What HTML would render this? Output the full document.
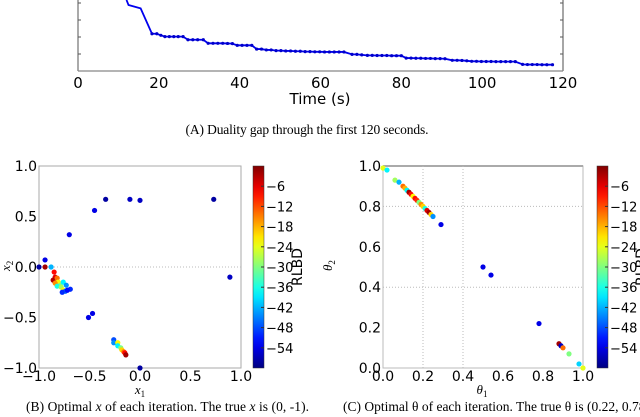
<!DOCTYPE html>
<html><head><meta charset="utf-8">
<style>
html,body{margin:0;padding:0;background:#fff;}
svg{display:block;}
.t{font-family:"DejaVu Sans","Liberation Sans",sans-serif;fill:#000;}
.c{font-family:"Liberation Serif",serif;fill:#000;}
</style></head>
<body>
<svg id="fig" width="640" height="417" viewBox="0 0 640 417" xmlns="http://www.w3.org/2000/svg">
<g id="top"></g>
<g id="left"></g>
<g id="right"></g>
<text class="c" x="307" y="134" font-size="13.5" text-anchor="middle" textLength="243">(A) Duality gap through the first 120 seconds.</text>
<text class="c" x="26" y="411" font-size="13.5" textLength="283">(B) Optimal <tspan font-style="italic">x</tspan> of each iteration. The true <tspan font-style="italic">x</tspan> is (0, -1).</text>
<text class="c" x="343" y="411" font-size="13.5">(C) Optimal θ of each iteration. The true θ is (0.22, 0.78).</text>
</svg>
<script>
// ---- Top chart data ----
const gapTimes = [12,12.5,15.5,18.3,19.5,20.5,21.5,22.6,23.7,24.8,26,27.2,28.4,29.6,31,32.2,33.4,34.6,35.8,37,38.2,39.4,40.6,41.8,43,44.2,45.4,46.6,47.8,49,50.2,51.4,52.6,53.8,55,56.2,57.4,58.6,59.8,61,62.2,63.4,64.6,65.8,67.8,69,70.2,71.6,72.8,74,75.2,76.4,77.6,78.8,80,81.2,82.4,83.6,84.8,86,87.2,88.4,89.6,90.8,92.6,93.8,95,96.2,97.4,98.6,99.8,101,102.2,103.4,104.6,105.8,107,108.2,110,111.2,112.4,113.6,114.8,116,117.4];
const gapValues = [4.18,3.88,3.68,2.19,2.19,2.1,2.02,2.02,2.02,2.02,2.02,1.84,1.84,1.84,1.84,1.63,1.63,1.63,1.63,1.62,1.61,1.51,1.51,1.51,1.51,1.29,1.29,1.24,1.24,1.2,1.2,1.18,1.18,1.16,1.16,1.14,1.14,1.13,1.13,1.12,1.12,1.12,1.12,1.12,0.98,0.98,0.95,0.92,0.92,0.91,0.91,0.91,0.9,0.9,0.9,0.76,0.76,0.75,0.75,0.74,0.74,0.73,0.73,0.72,0.63,0.63,0.62,0.6,0.57,0.57,0.56,0.56,0.56,0.55,0.55,0.55,0.55,0.55,0.39,0.38,0.38,0.38,0.37,0.37,0.37];
const timeTicks = [0,20,40,60,80,100,120];

// ---- Scatter B data ----
const xPts1 = [-1.0,-0.94,-0.94,-0.88,-0.70,-0.45,-0.34,-0.10,0.0,0.73,0.89,-0.51,-0.47,0.0,-0.85,-0.84,-0.86,-0.82,-0.81,-0.84,-0.79,-0.82,-0.76,-0.78,-0.73,-0.76,-0.74,-0.77,-0.69,-0.72,-0.26,-0.26,-0.22,-0.22,-0.19,-0.18,-0.16,-0.15,-0.14];
const xPts2 = [0.0,0.07,0.0,0.0,0.32,0.56,0.67,0.67,0.66,0.67,-0.10,-0.50,-0.46,-1.0,-0.05,-0.10,-0.13,-0.11,-0.15,-0.16,-0.18,-0.19,-0.15,-0.20,-0.18,-0.23,-0.24,-0.25,-0.22,-0.23,-0.72,-0.75,-0.75,-0.78,-0.80,-0.82,-0.84,-0.85,-0.87];
const xRLBD = [-58,-54,-2,-42,-54,-54,-58,-56,-56,-58,-56,-54,-54,-58,-8,-6,-3,-14,-22,-16,-30,-36,-38,-28,-44,-22,-46,-50,-50,-52,-48,-44,-22,-38,-30,-20,-14,-8,-2];
const xTicks = [-1.0,-0.5,0.0,0.5,1.0];

// ---- Scatter C data ----
const th1 = [0.0,0.02,0.06,0.08,0.10,0.11,0.12,0.13,0.14,0.15,0.16,0.17,0.18,0.19,0.20,0.21,0.22,0.23,0.24,0.25,0.29,0.50,0.54,0.78,0.88,0.89,0.90,0.93,0.98,1.0];
const th2 = [0.99,0.98,0.93,0.92,0.90,0.89,0.88,0.87,0.86,0.85,0.84,0.83,0.82,0.81,0.80,0.79,0.78,0.77,0.76,0.75,0.71,0.50,0.46,0.22,0.12,0.11,0.10,0.07,0.02,0.0];
const thRLBD = [-24,-38,-28,-42,-14,-18,-38,-2,-8,-22,-8,-10,-30,-16,-20,-36,-6,-2,-20,-44,-54,-54,-54,-54,-2,-56,-14,-30,-40,-24];
const thTicks = [0.0,0.2,0.4,0.6,0.8,1.0];
const cbTicks = [-6,-12,-18,-24,-30,-36,-42,-48,-54];

const NS="http://www.w3.org/2000/svg";
function mk(parent,tag,attrs,text){const e=document.createElementNS(NS,tag);for(const k in attrs)e.setAttribute(k,attrs[k]);if(text!==undefined)e.textContent=text;parent.appendChild(e);return e;}
function jet(v){
  const r=Math.min(Math.max(Math.min(4*v-1.5,-4*v+4.5),0),1);
  const g=Math.min(Math.max(Math.min(4*v-0.5,-4*v+3.5),0),1);
  const b=Math.min(Math.max(Math.min(4*v+0.5,-4*v+2.5),0),1);
  return `rgb(${Math.round(r*255)},${Math.round(g*255)},${Math.round(b*255)})`;
}
const cbMin=-60,cbMax=0;
const cnorm=v=>(v-cbMin)/(cbMax-cbMin);

// ===== Top chart =====
(function(){
  const g=document.getElementById('top');
  const X0=78,X1=563,YB=71,K=17;
  const sx=t=>X0+(t-0)/(120-0)*(X1-X0);
  const sy=v=>YB-v*K;
  let el=mk(g,'line',{x1:X0,y1:0,x2:X0,y2:YB,stroke:'#555','stroke-width':1});
  
  el=mk(g,'line',{x1:X1,y1:0,x2:X1,y2:YB,stroke:'#888','stroke-width':1.5});
  
  el=mk(g,'line',{x1:X0,y1:YB,x2:X1,y2:YB,stroke:'#888','stroke-width':1.2});
  
  [1,2,3,4].forEach(v=>{
    const e=mk(g,'line',{x1:X0,y1:sy(v),x2:X0+3,y2:sy(v),stroke:'#555'});
    
    const e2=mk(g,'line',{x1:X1-3,y1:sy(v),x2:X1,y2:sy(v),stroke:'#555'});
    
  });
  timeTicks.forEach(t=>{
    const e=mk(g,'text',{class:'t',x:sx(t),y:88,'font-size':15,'text-anchor':'middle'},String(t));
    
  });
  el=mk(g,'text',{class:'t',x:320,y:104,'font-size':15,'text-anchor':'middle'},'Time (s)');
  
  const pts=gapTimes.map((t,i)=>sx(t)+','+sy(gapValues[i])).join(' ');
  el=mk(g,'polyline',{points:pts,fill:'none',stroke:'#0000ee','stroke-width':1.8});
  
  gapTimes.forEach((t,i)=>{
    if(i<3)return;
    const e=mk(g,'circle',{cx:sx(t),cy:sy(gapValues[i]),r:1.6,fill:'#0000cc'});
    
  });
})();

function colorbar(g,x,w,y0,y1,gid){
  const defs=mk(g,'defs',{});
  const lg=mk(defs,'linearGradient',{id:gid,x1:0,y1:1,x2:0,y2:0});
  for(let i=0;i<=20;i++){mk(lg,'stop',{offset:(i/20),'stop-color':jet(i/20)});}
  let el=mk(g,'rect',{x:x,y:y0,width:w,height:y1-y0,fill:`url(#${gid})`,stroke:'#333','stroke-width':0.5});
  
  const cy=v=>y1-(v-cbMin)/(cbMax-cbMin)*(y1-y0);
  cbTicks.forEach(v=>{
    const e=mk(g,'line',{x1:x+w-3,y1:cy(v),x2:x+w,y2:cy(v),stroke:'#333'});
    
    const t=mk(g,'text',{class:'t',x:x+w+2,y:cy(v)+5,'font-size':13},'−'+Math.abs(v));
    
  });
  el=mk(g,'text',{class:'t',x:0,y:0,'font-size':14,'text-anchor':'middle',transform:`translate(${x+w+38},${(y0+y1)/2}) rotate(-90)`},'RLBD');
  
}

// ===== Scatter B =====
(function(){
  const g=document.getElementById('left');
  const L=39,R=241,T=166,B=368;
  const sx=v=>L+(v+1)/2*(R-L), sy=v=>B-(v+1)/2*(B-T);
  let el=mk(g,'rect',{x:L,y:T,width:R-L,height:B-T,fill:'none',stroke:'#aaa','stroke-width':1});
  
  el=mk(g,'line',{x1:L,y1:sy(0),x2:R,y2:sy(0),stroke:'#bbb','stroke-dasharray':'1,2'});
  
  xTicks.forEach(v=>{
    const a=mk(g,'text',{class:'t',x:sx(v),y:381,'font-size':14,'text-anchor':'middle'},(v<0?'−':'')+Math.abs(v).toFixed(1));
    
    const b=mk(g,'text',{class:'t',x:L-2,y:sy(v)+5,'font-size':14,'text-anchor':'end'},(v<0?'−':'')+Math.abs(v).toFixed(1));
    
  });
  el=mk(g,'text',{class:'c',x:140,y:394,'font-size':13,'font-style':'italic','text-anchor':'middle'},'x');
  mk(el,'tspan',{'font-size':9,'font-style':'normal',dy:3},'1');
  
  el=mk(g,'text',{class:'c',x:0,y:0,'font-size':13,'font-style':'italic',transform:`translate(10,${sy(0)+4}) rotate(-90)`},'x');
  mk(el,'tspan',{'font-size':9,'font-style':'normal',dy:3},'2');
  
  xPts1.forEach((v,i)=>{
    const c=mk(g,'circle',{cx:sx(v),cy:sy(xPts2[i]),r:2.6,fill:jet(cnorm(xRLBD[i]))});
    
  });
  colorbar(g,253,11,T,B,'jetB');
})();

// ===== Scatter C =====
(function(){
  const g=document.getElementById('right');
  const L=383,R=583,T=166,B=368;
  const sx=v=>L+v*(R-L), sy=v=>B-v*(B-T);
  let el=mk(g,'rect',{x:L,y:T,width:R-L,height:B-T,fill:'none',stroke:'#bbb','stroke-width':1});
  
  el=mk(g,'line',{x1:L,y1:T,x2:R,y2:T,stroke:'#aaa','stroke-width':2});
  
  [0.2,0.4].forEach(v=>{
    const e=mk(g,'line',{x1:sx(v),y1:T,x2:sx(v),y2:B,stroke:'#bbb','stroke-dasharray':'1,2'});
    
  });
  [0.4,0.8].forEach(v=>{
    const e=mk(g,'line',{x1:L,y1:sy(v),x2:R,y2:sy(v),stroke:'#bbb','stroke-dasharray':'1,2'});
    
  });
  thTicks.forEach(v=>{
    const a=mk(g,'text',{class:'t',x:sx(v),y:381,'font-size':14,'text-anchor':'middle'},v.toFixed(1));
    
    const b=mk(g,'text',{class:'t',x:L-2,y:sy(v)+5,'font-size':14,'text-anchor':'end'},v.toFixed(1));
    
  });
  el=mk(g,'text',{class:'c',x:482,y:394,'font-size':13,'font-style':'italic','text-anchor':'middle'},'θ');
  mk(el,'tspan',{'font-size':9,'font-style':'normal',dy:3},'1');
  
  el=mk(g,'text',{class:'c',x:0,y:0,'font-size':13,'font-style':'italic',transform:`translate(332,${sy(0.5)+4}) rotate(-90)`},'θ');
  mk(el,'tspan',{'font-size':9,'font-style':'normal',dy:3},'2');
  
  th1.forEach((v,i)=>{
    const c=mk(g,'circle',{cx:sx(v),cy:sy(th2[i]),r:2.6,fill:jet(cnorm(thRLBD[i]))});
    
  });
  colorbar(g,597,11,T,B,'jetC');
})();
</script>
</body></html>
